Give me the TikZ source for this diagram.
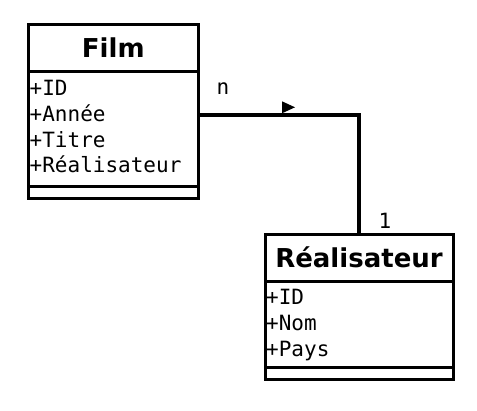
\documentclass[tikz,border=0pt]{standalone}
\usepackage{fontspec}
\setmainfont{DejaVu Sans}
\newfontfamily\titlefont{DejaVu Sans}
\newfontfamily\attrfont{DejaVu Sans Mono}
\usetikzlibrary{positioning}

\tikzset{
  classbox/.style={draw, line width=3pt, outer sep=0pt, inner sep=0pt},
  classtitle/.style={classbox, minimum height=47pt,
    font=\titlefont\bfseries\fontsize{26}{30}\selectfont,
    text height=18.9pt, text depth=0pt},
  classfoot/.style={classbox, minimum height=12.5pt},
  attr/.style={anchor=base west, inner sep=0pt,
    font=\attrfont\fontsize{21}{25}\selectfont},
  mult/.style={anchor=base, inner sep=0pt,
    font=\attrfont\fontsize{21}{25}\selectfont},
  assoc/.style={line width=3.2pt},
}

\begin{document}
\begin{tikzpicture}[x=1pt, y=-1pt]
  \useasboundingbox (0,0) rectangle (477,411);

  \node[classtitle, minimum width=169.5pt] (film) at (113.25,48.25) {Film};
  \node[classbox, minimum width=169.5pt, minimum height=114.5pt, below=0pt of film] (filmattrs) {};
  \node[classfoot, minimum width=169.5pt, below=0pt of filmattrs] (filmfoot) {};
  \foreach \a [count=\i from 0] in {+ID,+Année,+Titre,+Réalisateur}
    \node[attr] (film-\i) at ([shift={(1,23.9+25.7*\i)}]filmattrs.north west) {\a};

  \node[classtitle, minimum width=188pt] (real) at (359,258) {Réalisateur};
  \node[classbox, minimum width=188pt, minimum height=86pt, below=0pt of real] (realattrs) {};
  \node[classfoot, minimum width=188pt, below=0pt of realattrs] (realfoot) {};
  \foreach \a [count=\i from 0] in {+ID,+Nom,+Pays}
    \node[attr] (real-\i) at ([shift={(1,23.5+25.8*\i)}]realattrs.north west) {\a};

  \draw[assoc] ([yshift=14pt]filmattrs.east) -| (real.north);
  \coordinate (dir) at (282,113.3);
  \fill (dir) -- ++(0,-12) -- ++(13,6) -- cycle;

  \node[mult] (mult-n) at (223,95) {n};
  \node[mult] (mult-1) at (385,228.3) {1};
\end{tikzpicture}
\end{document}
